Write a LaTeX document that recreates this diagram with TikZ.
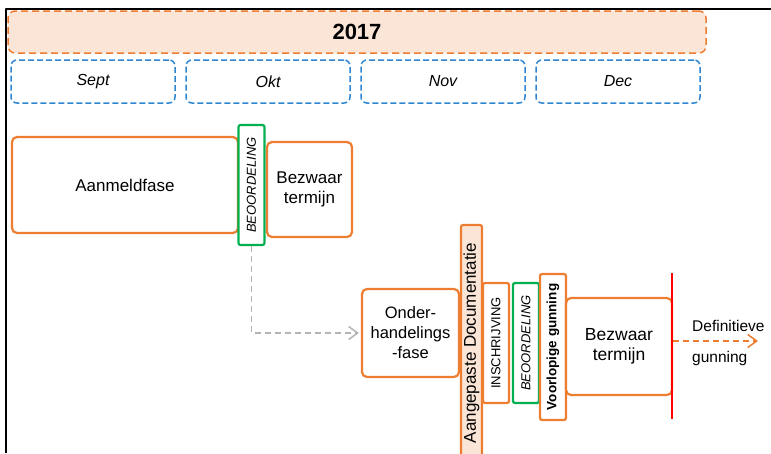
\documentclass[tikz,border=0pt]{standalone}
\usepackage{fontspec}
\setmainfont{Liberation Sans}
\usetikzlibrary{arrows.meta}
\definecolor{orng}{HTML}{ED7D31}
\definecolor{peach}{HTML}{FBE5D6}
\definecolor{mblue}{HTML}{2E86D0}
\definecolor{grn}{HTML}{00B050}
\definecolor{gry}{HTML}{B4B4B4}
\begin{document}
\begin{tikzpicture}[x=1pt,y=-1pt,line join=round,
  phase/.style={draw=orng,line width=2.2pt,rounded corners=5pt,fill=white,inner sep=0pt,
    align=center,font=\fontsize{17}{20}\selectfont},
  month/.style={draw=mblue,line width=1.5pt,dash pattern=on 6pt off 3pt,rounded corners=6pt,
    minimum width=164pt,minimum height=43pt,font=\fontsize{16}{18}\selectfont\itshape},
  strip/.style={draw=orng,line width=2.2pt,rounded corners=2pt,rotate=90,inner sep=0pt,
    fill=white,minimum height=26pt,minimum width=120pt,font=\fontsize{13}{15}\selectfont},
  check/.style={strip,draw=grn,font=\fontsize{13}{15}\selectfont\itshape},
  link/.style={dash pattern=on 6pt off 4pt,line width=1.5pt,-{Straight Barb[length=9pt,width=13pt]}}]
  \useasboundingbox (0,0) rectangle (771,453);
  \clip (0,0) rectangle (771,453);
  \draw[line width=2pt] (6,453) -- (6,9) -- (771,9);
  \node[draw=orng,fill=peach,line width=1.5pt,dash pattern=on 7pt off 4pt,rounded corners=7pt,
    minimum width=698pt,minimum height=42pt,font=\fontsize{22}{24}\selectfont\bfseries]
    (year) at (357,32) {2017};
  \foreach \m/\x in {Sept/93,Okt/268,Nov/443,Dec/618}
    \node[month] (\m) at (\x,81.5) {\m};
  \node[phase,minimum width=226pt,minimum height=96pt] (aanmeld) at (125,185) {Aanmeldfase};
  \node[check] (beo1) at (251.5,185) {BEOORDELING};
  \node[phase,minimum width=85pt,minimum height=95pt] (bezw1) at (309.5,189.5) {Bezwaar\\termijn};
  \node[phase,minimum width=97pt,minimum height=88pt,font=\fontsize{16.5}{20}\selectfont]
    (onder) at (410.5,333) {Onder-\\handelings\\-fase};
  \node[strip,fill=peach,minimum width=236pt,minimum height=21pt,font=\fontsize{17}{20}\selectfont]
    (aangep) at (471.5,343) {Aangepaste Documentatie};
  \node[strip] (insch) at (496,343) {INSCHRIJVING};
  \node[check] (beo2) at (526,343) {BEOORDELING};
  \node[strip,minimum width=146pt,font=\fontsize{13.5}{15}\selectfont\bfseries]
    (voorl) at (553,347) {Voorlopige gunning};
  \node[phase,minimum width=106pt,minimum height=97pt,font=\fontsize{17.5}{20}\selectfont]
    (bezw2) at (619,346.5) {Bezwaar\\termijn};
  \draw[red,line width=2pt] (672,273) -- (672,419);
  \coordinate (fin) at (758,341);
  \draw[link,gry] (beo1.west) |- ([xshift=-2pt]onder.west);
  \draw[link,orng] (bezw2.east |- fin) -- (fin);
  \node[anchor=north west,inner sep=0pt,align=left,font=\fontsize{15.5}{31}\selectfont]
    (defin) at (692,320) {Definitieve\\gunning};
\end{tikzpicture}
\end{document}
